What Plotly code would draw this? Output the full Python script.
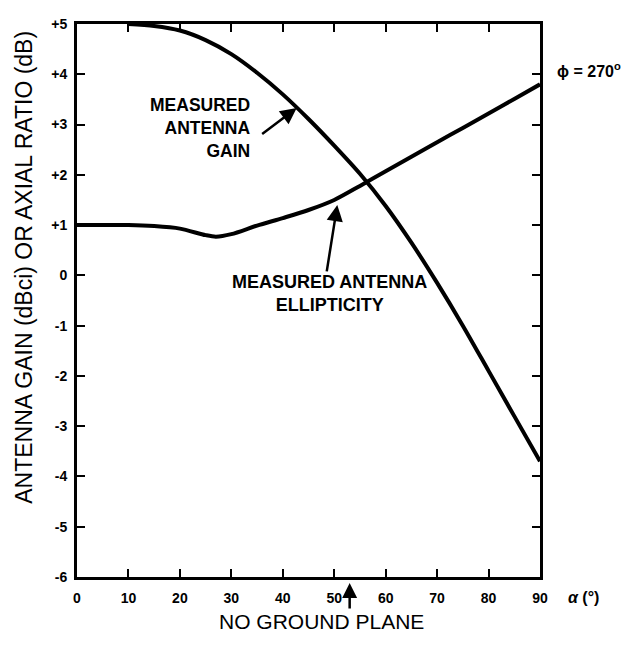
import plotly.graph_objects as go

# ---- data ----
alpha_gain = [10, 15, 20, 25, 30, 35, 40, 45, 50, 55, 60, 65, 70, 75, 80, 85, 90]
gain_db = [5.0, 4.96, 4.87, 4.68, 4.40, 4.03, 3.60, 3.11, 2.58, 2.02, 1.38, 0.65, -0.15, -1.0, -1.9, -2.8, -3.7]

alpha_ell = [0, 5, 10, 15, 20, 25, 27, 30, 35, 40, 45, 50, 55, 60, 65, 70, 75, 80, 85, 90]
ellip_db = [1.0, 1.0, 1.0, 0.98, 0.93, 0.80, 0.77, 0.82, 0.99, 1.14, 1.30, 1.50, 1.78, 2.07, 2.36, 2.65, 2.93, 3.22, 3.51, 3.80]

x_ticks = [0, 10, 20, 30, 40, 50, 60, 70, 80, 90]
x_ticktext = ["0", "10", "20", "30", "40", "50", "60", "70", "80", "90"]
y_ticks = [5, 4, 3, 2, 1, 0, -1, -2, -3, -4, -5, -6]
y_ticktext = ["+5", "+4", "+3", "+2", "+1", "0", "-1", "-2", "-3", "-4", "-5", "-6"]

FONT = "Liberation Sans, Arial, sans-serif"

fig = go.Figure()
fig.add_trace(go.Scatter(x=alpha_gain, y=gain_db, mode="lines",
                         line=dict(color="black", width=4, shape="spline", smoothing=0.8),
                         showlegend=False, hoverinfo="skip"))
fig.add_trace(go.Scatter(x=alpha_ell, y=ellip_db, mode="lines",
                         line=dict(color="black", width=4, shape="spline", smoothing=0.8),
                         showlegend=False, hoverinfo="skip"))

axis_common = dict(showline=True, linecolor="black", linewidth=3, mirror="ticks",
                   ticks="inside", ticklen=8, tickwidth=2, tickcolor="black",
                   showgrid=False, zeroline=False,
                   tickfont=dict(family=FONT, size=14, color="black", weight="bold"))

fig.update_xaxes(range=[0, 90], tickvals=x_ticks, ticktext=x_ticktext,
                 ticklabelstandoff=6, **axis_common)
fig.update_yaxes(range=[-6, 5], tickvals=y_ticks, ticktext=y_ticktext,
                 ticklabelstandoff=4, **axis_common)

ann = []
# y-axis title
ann.append(dict(x=-0.1145, y=0.561, xref="paper", yref="paper", text="ANTENNA GAIN (dBci) OR AXIAL RATIO (dB)",
                textangle=-90, showarrow=False, font=dict(family=FONT, size=23, color="black"),
                xanchor="center", yanchor="middle"))
# bottom label
ann.append(dict(x=0.529, y=-0.1055, xref="paper", yref="paper", text="NO GROUND PLANE", showarrow=False,
                font=dict(family=FONT, size=21, color="black"), xanchor="center", yanchor="bottom"))
# ground plane arrow
ann.append(dict(x=53, y=-0.011, xref="x", yref="paper", ax=0, ay=27, axref="pixel", ayref="pixel",
                text="", showarrow=True, arrowhead=2, arrowsize=1.2, arrowwidth=2.5, arrowcolor="black"))
# alpha unit
ann.append(dict(x=1.056, y=-0.037, xref="paper", yref="paper", text="<i>α</i> (°)", showarrow=False,
                font=dict(family=FONT, size=16, color="black", weight="bold"), xanchor="left", yanchor="middle"))
# phi label
ann.append(dict(x=1.032, y=0.916, xref="paper", yref="paper", text="ϕ = 270<sup>o</sup>", showarrow=False,
                font=dict(family=FONT, size=16, color="black", weight="bold"), xanchor="left", yanchor="middle"))
# gain label
ann.append(dict(x=34.2, y=2.94, xref="x", yref="y", text="MEASURED<br>ANTENNA<br>GAIN", showarrow=False,
                align="right", font=dict(family=FONT, size=17.5, color="black", weight="bold"),
                xanchor="right", yanchor="middle"))
ann.append(dict(x=42.7, y=3.33, xref="x", yref="y", ax=35.7, ay=2.79, axref="x", ayref="y",
                text="", showarrow=True, arrowhead=2, arrowsize=1.3, arrowwidth=2.5, arrowcolor="black"))
# ellipticity label
ann.append(dict(x=49.1, y=-0.37, xref="x", yref="y", text="MEASURED ANTENNA<br>ELLIPTICITY", showarrow=False,
                align="center", font=dict(family=FONT, size=18, color="black", weight="bold"),
                xanchor="center", yanchor="middle"))
ann.append(dict(x=50.6, y=1.40, xref="x", yref="y", ax=48.5, ay=0.05, axref="x", ayref="y",
                text="", showarrow=True, arrowhead=2, arrowsize=1.3, arrowwidth=2.5, arrowcolor="black"))

fig.update_layout(width=617, height=629, margin=dict(l=69, r=85, t=8, b=60),
                  plot_bgcolor="white", paper_bgcolor="white", annotations=ann,
                  font=dict(family=FONT, color="black"))

fig.write_html("out.html")
